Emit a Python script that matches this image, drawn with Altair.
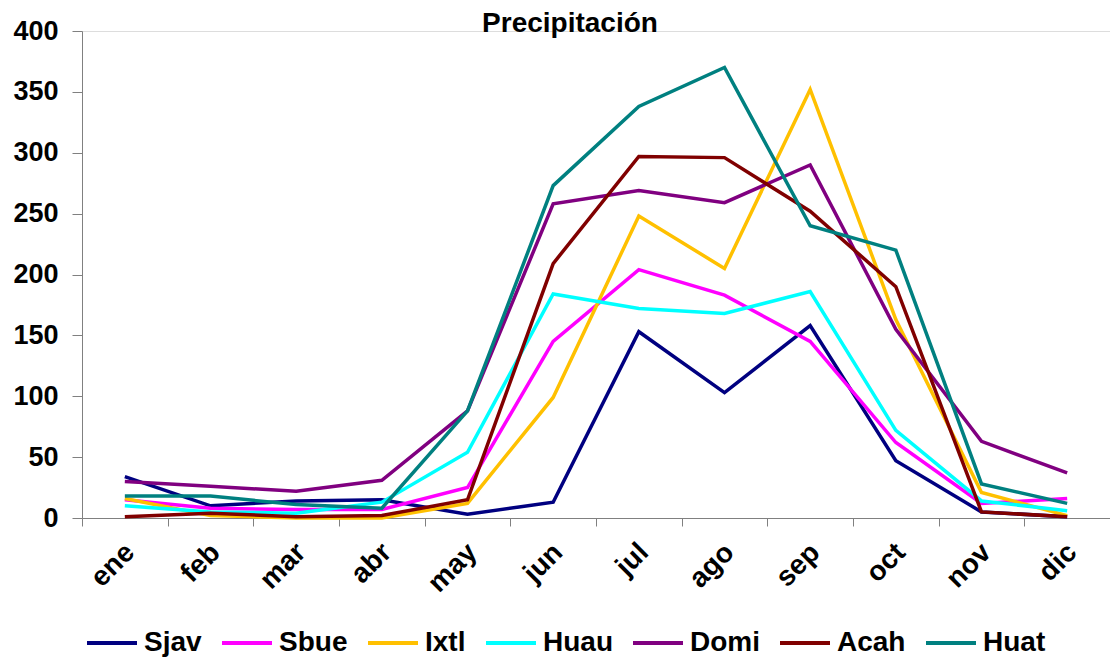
import altair as alt
import pandas as pd

months = ["ene", "feb", "mar", "abr", "may", "jun", "jul", "ago", "sep", "oct", "nov", "dic"]
series_names = ["Sjav", "Sbue", "Ixtl", "Huau", "Domi", "Acah", "Huat"]
series_colors = ["#000080", "#FF00FF", "#FFC000", "#00FFFF", "#800080", "#800000", "#008080"]

sjav = [34, 10, 14, 15, 3, 13, 153, 103, 158, 47, 5, 1]
sbue = [15, 8, 7, 7, 25, 145, 204, 183, 145, 62, 12, 16]
ixtl = [16, 2, 0, 0, 12, 99, 248, 205, 352, 163, 21, 2]
huau = [10, 5, 4, 13, 54, 184, 172, 168, 186, 72, 14, 6]
domi = [30, 26, 22, 31, 88, 258, 269, 259, 290, 155, 63, 37]
acah = [1, 4, 1, 2, 15, 209, 297, 296, 252, 190, 5, 1]
huat = [18, 18, 11, 8, 88, 273, 338, 370, 240, 220, 28, 12]

all_series = [sjav, sbue, ixtl, huau, domi, acah, huat]

rows = []
for name, vals in zip(series_names, all_series):
    for m, v in zip(months, vals):
        rows.append({"mes": m, "serie": name, "valor": v})
df = pd.DataFrame(rows)

FONT = "Liberation Sans"

chart = (
    alt.Chart(df)
    .mark_line(strokeWidth=3.5)
    .encode(
        x=alt.X(
            "mes:N",
            sort=months,
            bandPosition=0.5,
            scale=alt.Scale(type="band", paddingInner=0, paddingOuter=0),
            axis=alt.Axis(
                title=None,
                labelAngle=-45,
                labelFont=FONT,
                labelFontSize=28,
                labelFontWeight="bold",
                labelColor="#000000",
                tickBand="extent",
                tickSize=8,
                tickColor="#808080",
                domainColor="#808080",
                labelPadding=12,
                labelOffset=-5,
                grid=False,
            ),
        ),
        y=alt.Y(
            "valor:Q",
            scale=alt.Scale(domain=[0, 400], nice=False),
            axis=alt.Axis(
                title=None,
                values=[0, 50, 100, 150, 200, 250, 300, 350, 400],
                labelFont=FONT,
                labelFontSize=27,
                labelFontWeight="bold",
                labelColor="#000000",
                tickSize=10,
                tickColor="#808080",
                domainColor="#808080",
                labelPadding=14,
                grid=False,
            ),
        ),
        color=alt.Color(
            "serie:N",
            sort=series_names,
            scale=alt.Scale(domain=series_names, range=series_colors),
            legend=alt.Legend(
                title=None,
                orient="none",
                direction="horizontal",
                columns=7,
                legendX=3,
                legendY=585,
                symbolType="stroke",
                symbolSize=2500,
                symbolStrokeWidth=4,
                labelFont=FONT,
                labelFontSize=28,
                labelFontWeight="bold",
                labelColor="#000000",
                labelOffset=5,
                columnPadding=12,
                padding=0,
            ),
        ),
    )
    .properties(
        width=1028,
        height=487,
        title=alt.TitleParams(
            "Precipitación",
            font=FONT,
            fontSize=28,
            fontWeight="bold",
            color="#000000",
            anchor="middle",
            dx=-26,
            offset=-21,
        ),
        autosize=alt.AutoSizeParams(type="none"),
        padding={"left": 82, "top": 31, "right": 0, "bottom": 144},
    )
    .configure_view(stroke=None)
    .configure(background="#FFFFFF")
)

chart.save("out.html", embed_options={"renderer": "svg", "actions": False})
